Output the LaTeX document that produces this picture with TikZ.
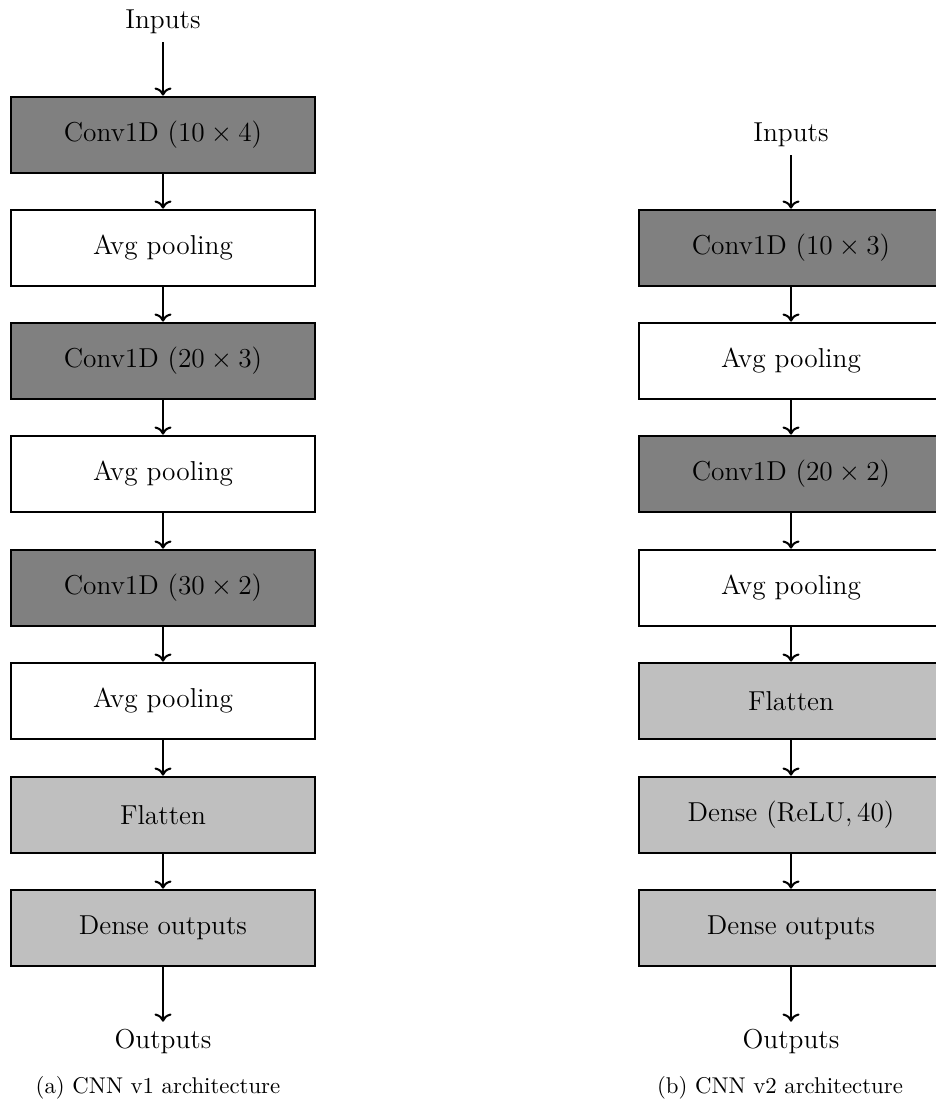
\documentclass[tikz,border=0pt]{standalone}
\usetikzlibrary{arrows.meta}
\begin{document}
\begin{tikzpicture}[x=0.4386pt,y=-0.4386pt,
  layer/.style={draw=black,line width=1.2pt,minimum width={304*0.4386pt},minimum height={76*0.4386pt},font=\large,inner sep=0pt},
  convbox/.style={layer,fill=black!50},
  poolbox/.style={layer,fill=white},
  densebox/.style={layer,fill=black!25},
  lbl/.style={font=\large},
  captext/.style={font=\normalsize},
  flow/.style={-{To[scale=1.0]},line width=0.9pt}]
\clip (0,0) rectangle (936,1105);
% left column
\node[lbl] (a0) at (163,22) {Inputs};
\node[convbox] (a1) at (163,135) {Conv1D $(10\times 4)$};
\node[poolbox] (a2) at (163,248) {Avg pooling};
\node[convbox] (a3) at (163,361) {Conv1D $(20\times 3)$};
\node[poolbox] (a4) at (163,474) {Avg pooling};
\node[convbox] (a5) at (163,588) {Conv1D $(30\times 2)$};
\node[poolbox] (a6) at (163,701) {Avg pooling};
\node[densebox] (a7) at (163,815) {Flatten};
\node[densebox] (a8) at (163,928) {Dense outputs};
\node[lbl] (a9) at (163,1042) {Outputs};
\node[captext] (acap) at (158,1088) {(a) CNN v1 architecture};
\foreach \i/\j in {a0/a1,a1/a2,a2/a3,a3/a4,a4/a5,a5/a6,a6/a7,a7/a8,a8/a9}
  \draw[flow] (\i) -- (\j);
% right column
\node[lbl] (b0) at (791,135) {Inputs};
\node[convbox] (b1) at (791,248) {Conv1D $(10\times 3)$};
\node[poolbox] (b2) at (791,361) {Avg pooling};
\node[convbox] (b3) at (791,474) {Conv1D $(20\times 2)$};
\node[poolbox] (b4) at (791,588) {Avg pooling};
\node[densebox] (b5) at (791,701) {Flatten};
\node[densebox] (b6) at (791,815) {Dense $(\mathrm{ReLU},40)$};
\node[densebox] (b7) at (791,928) {Dense outputs};
\node[lbl] (b8) at (791,1042) {Outputs};
\node[captext] (bcap) at (780,1088) {(b) CNN v2 architecture};
\foreach \i/\j in {b0/b1,b1/b2,b2/b3,b3/b4,b4/b5,b5/b6,b6/b7,b7/b8}
  \draw[flow] (\i) -- (\j);
\end{tikzpicture}
\end{document}
